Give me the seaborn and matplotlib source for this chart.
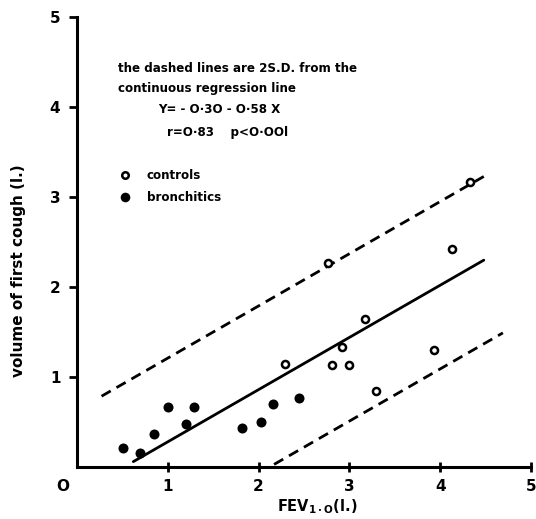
import matplotlib
matplotlib.use("Agg")
import matplotlib.pyplot as plt
import seaborn as sns
import numpy as np
import pandas as pd

# ---- data ----
controls_x = [2.29, 2.76, 2.81, 2.92, 3.00, 3.17, 3.29, 3.93, 4.13, 4.33]
controls_y = [1.14, 2.27, 1.13, 1.33, 1.13, 1.64, 0.84, 1.30, 2.42, 3.17]
bronch_x = [0.51, 0.69, 0.85, 1.00, 1.20, 1.29, 1.82, 2.03, 2.16, 2.44]
bronch_y = [0.21, 0.16, 0.37, 0.67, 0.48, 0.67, 0.43, 0.50, 0.70, 0.77]

reg_intercept = -0.30
reg_slope = 0.58
sd2 = 0.93
reg_x = [0.62, 4.48]
upper_x = [0.27, 4.48]
lower_x = [2.17, 4.69]

x_ticks = [1, 2, 3, 4, 5]
y_ticks = [1, 2, 3, 4, 5]

sns.set_theme(style="white")
plt.rcParams["font.family"] = ["DejaVu Sans"]
plt.rcParams["font.weight"] = "bold"
plt.rcParams["mathtext.default"] = "bf"
plt.rcParams["text.color"] = "black"
plt.rcParams["axes.labelcolor"] = "black"
plt.rcParams["xtick.color"] = "black"
plt.rcParams["ytick.color"] = "black"

fig = plt.figure(figsize=(5.36, 5.19), dpi=100)
ax = fig.add_axes([0.1437, 0.1002, 0.847, 0.867])

df_c = pd.DataFrame({"x": controls_x, "y": controls_y})
df_b = pd.DataFrame({"x": bronch_x, "y": bronch_y})

def line_df(xs, off):
    xs = np.array(xs)
    return pd.DataFrame({"x": xs, "y": reg_intercept + off + reg_slope * xs})

sns.lineplot(data=line_df(reg_x, 0), x="x", y="y", ax=ax, color="black", lw=2.0)
sns.lineplot(data=line_df(upper_x, sd2), x="x", y="y", ax=ax, color="black", lw=2.0,
             linestyle=(0, (3.8, 2.4)))
sns.lineplot(data=line_df(lower_x, -sd2), x="x", y="y", ax=ax, color="black", lw=2.0,
             linestyle=(0, (3.8, 2.4)))

sns.scatterplot(data=df_b, x="x", y="y", ax=ax, color="black", s=52, marker="o",
                edgecolor="black", linewidth=0, zorder=3)
sns.scatterplot(data=df_c, x="x", y="y", ax=ax, facecolor="white", s=26, marker="o",
                edgecolor="black", linewidth=1.8, zorder=3)

ax.set_xlim(0, 5)
ax.set_ylim(0, 5)
ax.set_xticks(x_ticks)
ax.set_yticks(y_ticks)
ax.set_xticklabels([str(t) for t in x_ticks], fontsize=11, fontweight="bold")
ax.set_yticklabels([str(t) for t in y_ticks], fontsize=11, fontweight="bold")
ax.tick_params(axis="x", direction="inout", length=7, width=2, pad=5, colors="black")
ax.tick_params(axis="y", direction="out", length=6, width=2, pad=6, colors="black")
ax.tick_params(bottom=True, left=True)
for s in ["top", "right"]:
    ax.spines[s].set_visible(False)
for s in ["left", "bottom"]:
    ax.spines[s].set_linewidth(2.2)
    ax.spines[s].set_color("black")

ax.text(-0.16, -0.22, "O", fontsize=11, fontweight="bold", ha="center", va="center")

ax.set_xlabel("FEV$_{1\\cdot O}$(l.)", fontsize=10.5, fontweight="bold")
ax.xaxis.set_label_coords(0.53, -0.068)
ax.set_ylabel("volume of first cough (l.)", fontsize=11, fontweight="bold")
ax.yaxis.set_label_coords(-0.112, 0.436)

tk = dict(fontsize=8.6, fontweight="bold", va="center", ha="left", color="black")
ax.text(0.45, 4.43, "the dashed lines are 2S.D. from the", **tk)
ax.text(0.45, 4.21, "continuous regression line", **tk)
ax.text(0.89, 3.97, "Y= - O·3O - O·58 X", **tk)
ax.text(0.99, 3.72, "r=O·83    p<O·OOl", **tk)

ax.scatter([0.106], [0.649], transform=ax.transAxes, s=22, facecolor="white",
           edgecolor="black", linewidth=1.8, clip_on=False)
ax.scatter([0.106], [0.600], transform=ax.transAxes, s=48, color="black",
           linewidth=0, clip_on=False)
ax.text(0.77, 3.24, "controls", **tk)
ax.text(0.77, 3.00, "bronchitics", **tk)

fig.savefig("out.png", dpi=100)
